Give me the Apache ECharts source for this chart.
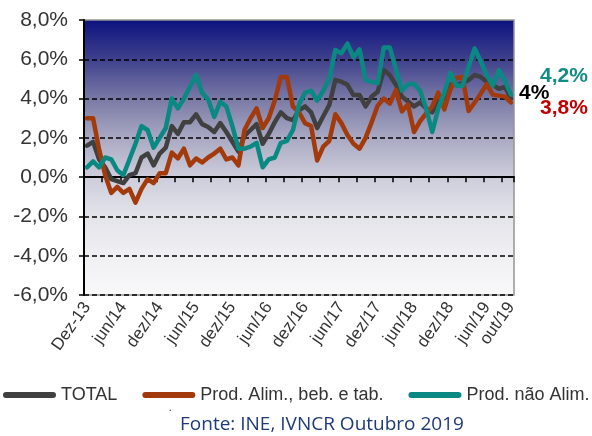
<!DOCTYPE html>
<html>
<head>
<meta charset="utf-8">
<script src="https://cdn.jsdelivr.net/npm/echarts@6/dist/echarts.min.js"></script>
<style>
  html, body { margin: 0; padding: 0; background: #ffffff; }
  #chart { width: 592px; height: 436px; }
</style>
</head>
<body>
<div id="chart"></div>
<script>
// Monthly categories: Dez-13 ... out/19
const monthAbbr = ['jan', 'fev', 'mar', 'abr', 'mai', 'jun', 'jul', 'ago', 'set', 'out', 'nov', 'dez'];
const categories = ['Dez-13'];
for (let y = 14; y <= 19; y++) {
  for (let m = 0; m < 12; m++) {
    if (y === 19 && m > 9) break;
    categories.push(monthAbbr[m] + '/' + y);
  }
}

// Year-on-year change (%)
const total = [
  1.6, 1.8, 0.9, 0.5, -0.1, -0.2, -0.3, 0.1, 0.2, 1.0,
  1.2, 0.6, 1.2, 1.5, 2.6, 2.2, 2.8, 2.8, 3.2, 2.7,
  2.55, 2.3, 2.75, 2.3, 1.8, 1.3, 2.1, 2.4, 2.7, 1.7,
  2.2, 2.8, 3.3, 3.0, 2.9, 3.4, 3.6, 3.3, 2.5, 3.1,
  3.67, 4.95, 4.86, 4.7, 4.18, 4.18, 3.6, 4.1, 4.35, 5.45,
  5.2, 4.7, 4.1, 3.85, 3.6, 3.8, 3.5, 3.3, 3.85, 4.0,
  4.7, 4.7, 4.8, 4.95, 5.2, 5.1, 4.86, 4.7, 4.5, 4.6,
  4.0
];
const alimentar = [
  3.0, 3.0, 1.4, 0.1, -0.8, -0.5, -0.8, -0.6, -1.3, -0.6,
  -0.1, -0.3, 0.2, 0.2, 1.25, 0.95, 1.45, 0.6, 0.95, 0.75,
  1.0, 1.2, 1.45, 0.9, 1.0, 0.6, 2.4, 3.0, 3.5, 2.5,
  3.0, 3.9, 5.1, 5.1, 3.6, 3.3, 2.75, 2.6, 0.85, 1.55,
  1.85, 3.2, 2.75, 2.15, 1.7, 1.45, 2.0, 2.8, 3.65, 4.0,
  3.75, 4.43, 3.35, 3.7, 2.3, 2.85, 3.25, 3.6, 4.3, 3.45,
  4.47, 5.05, 5.1, 3.37, 3.8, 4.25, 4.73, 4.2, 4.15, 4.1,
  3.8
];
const naoAlimentar = [
  0.5, 0.8, 0.5, 1.0, 0.9, 0.35, 0.1, 0.9, 1.7, 2.6,
  2.4, 1.5, 2.0, 2.5, 4.0, 3.5, 4.0, 4.6, 5.2, 4.3,
  3.95, 3.07, 3.84, 3.6, 2.6, 1.45, 1.45, 1.55, 1.75, 0.5,
  0.9, 1.0, 1.75, 1.85, 2.4, 3.7, 4.3, 4.4, 3.9, 4.4,
  5.0, 6.47, 6.3, 6.8, 6.1, 6.5, 4.94, 4.85, 4.78, 6.6,
  6.6, 5.5, 4.4, 4.73, 4.75, 4.4, 3.5, 2.3, 3.5, 4.3,
  5.3, 4.65, 4.65, 5.6, 6.55, 5.9, 5.2, 4.65, 5.45, 4.9,
  4.2
];

const seriesNames = ['TOTAL', 'Prod. Alim., beb. e tab.', 'Prod. não Alim.'];
const seriesColors = ['#404040', '#a33a0b', '#0a8983'];
const endLabelColors = ['#000000', '#c00000', '#128c85'];

const yMin = -6, yMax = 8, yStep = 2;
const sourceNote = 'Fonte: INE, IVNCR Outubro 2019';

const fontMain = '"Liberation Sans", Arial, sans-serif';
const pct = v => v.toFixed(1).replace('.', ',') + '%';
const endPct = v => (Number.isInteger(v) ? String(v) : v.toFixed(1).replace('.', ',')) + '%';

const chart = echarts.init(document.getElementById('chart'), null, { renderer: 'canvas' });

// rounded bar used as legend key
const capsule = 'path://M3,0L50,0A3,3,0,0,1,50,6L3,6A3,3,0,0,1,3,0Z';

function lineSeries(idx, data, labelOffset) {
  return {
    name: seriesNames[idx],
    type: 'line',
    data: data,
    symbol: 'none',
    smooth: false,
    color: seriesColors[idx],
    lineStyle: { width: 4.5, color: seriesColors[idx], cap: 'round', join: 'round' },
    itemStyle: { color: seriesColors[idx] },
    endLabel: {
      show: true,
      formatter: p => endPct(p.value),
      color: endLabelColors[idx],
      fontFamily: fontMain,
      fontSize: 21,
      fontWeight: 'bold',
      distance: 0,
      align: 'left',
      verticalAlign: 'middle',
      offset: labelOffset
    },
    emphasis: { disabled: true }
  };
}

chart.setOption({
  animation: false,
  grid: {
    left: 84, right: 78, top: 20, bottom: 141,
    show: true,
    borderColor: '#959595',
    borderWidth: 1.5,
    backgroundColor: {
      type: 'linear', x: 0, y: 0, x2: 0, y2: 1,
      colorStops: [
        { offset: 0.00, color: '#0b127f' },
        { offset: 0.14, color: '#3d3f8c' },
        { offset: 0.29, color: '#7a7aa6' },
        { offset: 0.43, color: '#a9a9c3' },
        { offset: 0.57, color: '#cdcddb' },
        { offset: 0.71, color: '#e3e3ea' },
        { offset: 0.86, color: '#f0f0f3' },
        { offset: 1.00, color: '#f9f9fa' }
      ]
    }
  },
  xAxis: {
    type: 'category',
    data: categories,
    boundaryGap: true,
    axisLine: { show: true, lineStyle: { color: '#000', width: 2 } },
    axisTick: {
      show: true,
      interval: (i) => i % 3 === 0,
      length: 5,
      lineStyle: { color: '#000', width: 1.5 }
    },
    axisLabel: {
      interval: (i) => i % 6 === 0 || i === categories.length - 1,
      rotate: 55,
      margin: 9,
      fontSize: 17,
      color: '#333333',
      fontFamily: fontMain
    },
    splitLine: { show: false }
  },
  yAxis: {
    type: 'value',
    min: yMin, max: yMax, interval: yStep,
    axisLine: { show: true, lineStyle: { color: '#000', width: 2 } },
    axisTick: { show: true, length: 5, lineStyle: { color: '#000', width: 1.5 } },
    axisLabel: {
      formatter: pct,
      fontSize: 21,
      color: '#333333',
      fontFamily: fontMain,
      margin: 16
    },
    splitLine: {
      show: true,
      lineStyle: {
        type: [5, 3],
        width: 1.5,
        color: ['#000', '#000', '#000', '#000', '#000', '#000', '#000', 'rgba(0,0,0,0)']
      }
    }
  },
  legend: {
    left: 3,
    top: 386,
    padding: 0,
    icon: capsule,
    itemWidth: 53,
    itemHeight: 6,
    itemGap: 25,
    selectedMode: false,
    textStyle: { fontSize: 18, color: '#333333', fontFamily: fontMain },
    data: seriesNames
  },
  graphic: [
    {
      type: 'text',
      left: 169, top: 409,
      style: { text: '\u02D9', fontSize: 14, fill: '#1f3a78', fontFamily: '"Open Sans", sans-serif' }
    },
    {
      type: 'text',
      left: 180, top: 415,
      style: { text: sourceNote, fontSize: 19, fill: '#1f3a78', fontFamily: '"Open Sans", "Noto Sans", sans-serif' }
    }
  ],
  series: [
    lineSeries(0, total, [8, -5.5]),
    lineSeries(1, alimentar, [29, 5.5]),
    lineSeries(2, naoAlimentar, [29, -18.5])
  ]
});
</script>
</body>
</html>
